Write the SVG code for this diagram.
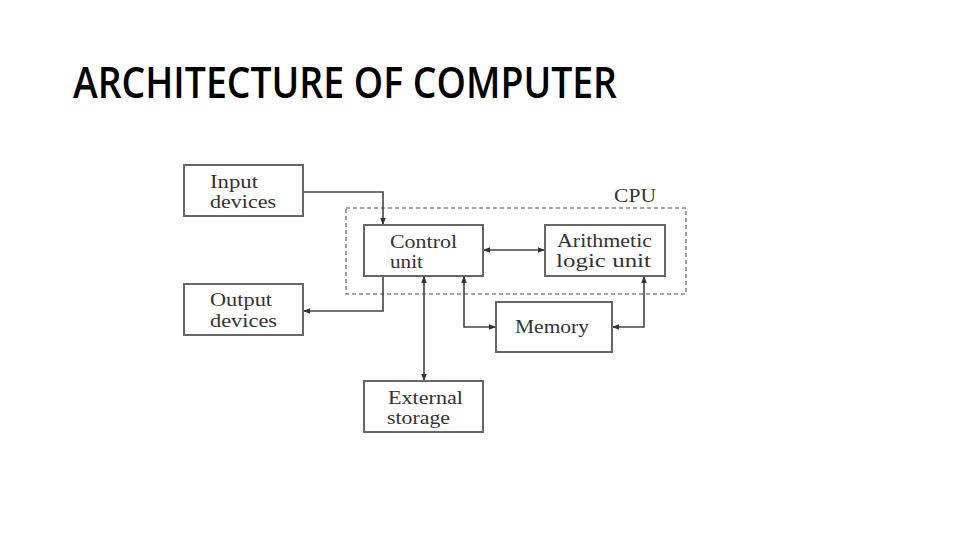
<svg xmlns="http://www.w3.org/2000/svg" width="960" height="540" viewBox="0 0 960 540">
<defs>
<marker id="ah" viewBox="0 0 10 10" refX="10" refY="5" markerWidth="7" markerHeight="7" orient="auto-start-reverse" markerUnits="userSpaceOnUse">
<path d="M0,1 L10,5 L0,9 z" fill="#333"/>
</marker>
<style>
.box{fill:#fff;stroke:#666;stroke-width:2}
.lbl{font-family:"Liberation Serif",serif;font-size:18px;fill:#333}
.con{fill:none;stroke:#444;stroke-width:1.6}
</style>
</defs>
<rect width="960" height="540" fill="#fff"/>
<text x="73" y="98" font-family="'Open Sans','Noto Sans',sans-serif" font-size="43" font-weight="600" textLength="544" lengthAdjust="spacingAndGlyphs" fill="#000">ARCHITECTURE OF COMPUTER</text>
<g id="cpu">
<rect x="346" y="208" width="340" height="86" fill="none" stroke="#888" stroke-width="1.6" stroke-dasharray="4,3"/>
<text class="lbl" x="614" y="202" textLength="42" lengthAdjust="spacingAndGlyphs">CPU</text>
</g>
<g id="connectors">
<polyline class="con" points="303,192 383,192 383,225" marker-end="url(#ah)"/>
<polyline class="con" points="383,276 383,311 303,311" marker-end="url(#ah)"/>
<line class="con" x1="483" y1="250" x2="545" y2="250" marker-start="url(#ah)" marker-end="url(#ah)"/>
<line class="con" x1="424" y1="276" x2="424" y2="381" marker-start="url(#ah)" marker-end="url(#ah)"/>
<polyline class="con" points="464,276 464,327 496,327" marker-start="url(#ah)" marker-end="url(#ah)"/>
<polyline class="con" points="612,327 644,327 644,276" marker-start="url(#ah)" marker-end="url(#ah)"/>
</g>
<g id="input">
<rect class="box" x="184" y="165" width="119" height="51"/>
<text class="lbl" x="210" y="188" textLength="48" lengthAdjust="spacingAndGlyphs">Input</text>
<text class="lbl" x="210" y="208" textLength="66" lengthAdjust="spacingAndGlyphs">devices</text>
</g>
<g id="output">
<rect class="box" x="184" y="284" width="119" height="51"/>
<text class="lbl" x="210" y="306" textLength="62" lengthAdjust="spacingAndGlyphs">Output</text>
<text class="lbl" x="210" y="327" textLength="67" lengthAdjust="spacingAndGlyphs">devices</text>
</g>
<g id="control">
<rect class="box" x="364" y="225" width="119" height="51"/>
<text class="lbl" x="390" y="248" textLength="67" lengthAdjust="spacingAndGlyphs">Control</text>
<text class="lbl" x="390" y="268" textLength="33" lengthAdjust="spacingAndGlyphs">unit</text>
</g>
<g id="alu">
<rect class="box" x="545" y="225" width="120" height="51"/>
<text class="lbl" x="557" y="247" textLength="95" lengthAdjust="spacingAndGlyphs">Arithmetic</text>
<text class="lbl" x="556" y="267" textLength="95" lengthAdjust="spacingAndGlyphs">logic unit</text>
</g>
<g id="memory">
<rect class="box" x="496" y="302" width="116" height="50"/>
<text class="lbl" x="515" y="333" textLength="74" lengthAdjust="spacingAndGlyphs">Memory</text>
</g>
<g id="external">
<rect class="box" x="364" y="381" width="119" height="51"/>
<text class="lbl" x="388" y="404" textLength="75" lengthAdjust="spacingAndGlyphs">External</text>
<text class="lbl" x="387" y="424" textLength="63" lengthAdjust="spacingAndGlyphs">storage</text>
</g>
</svg>
